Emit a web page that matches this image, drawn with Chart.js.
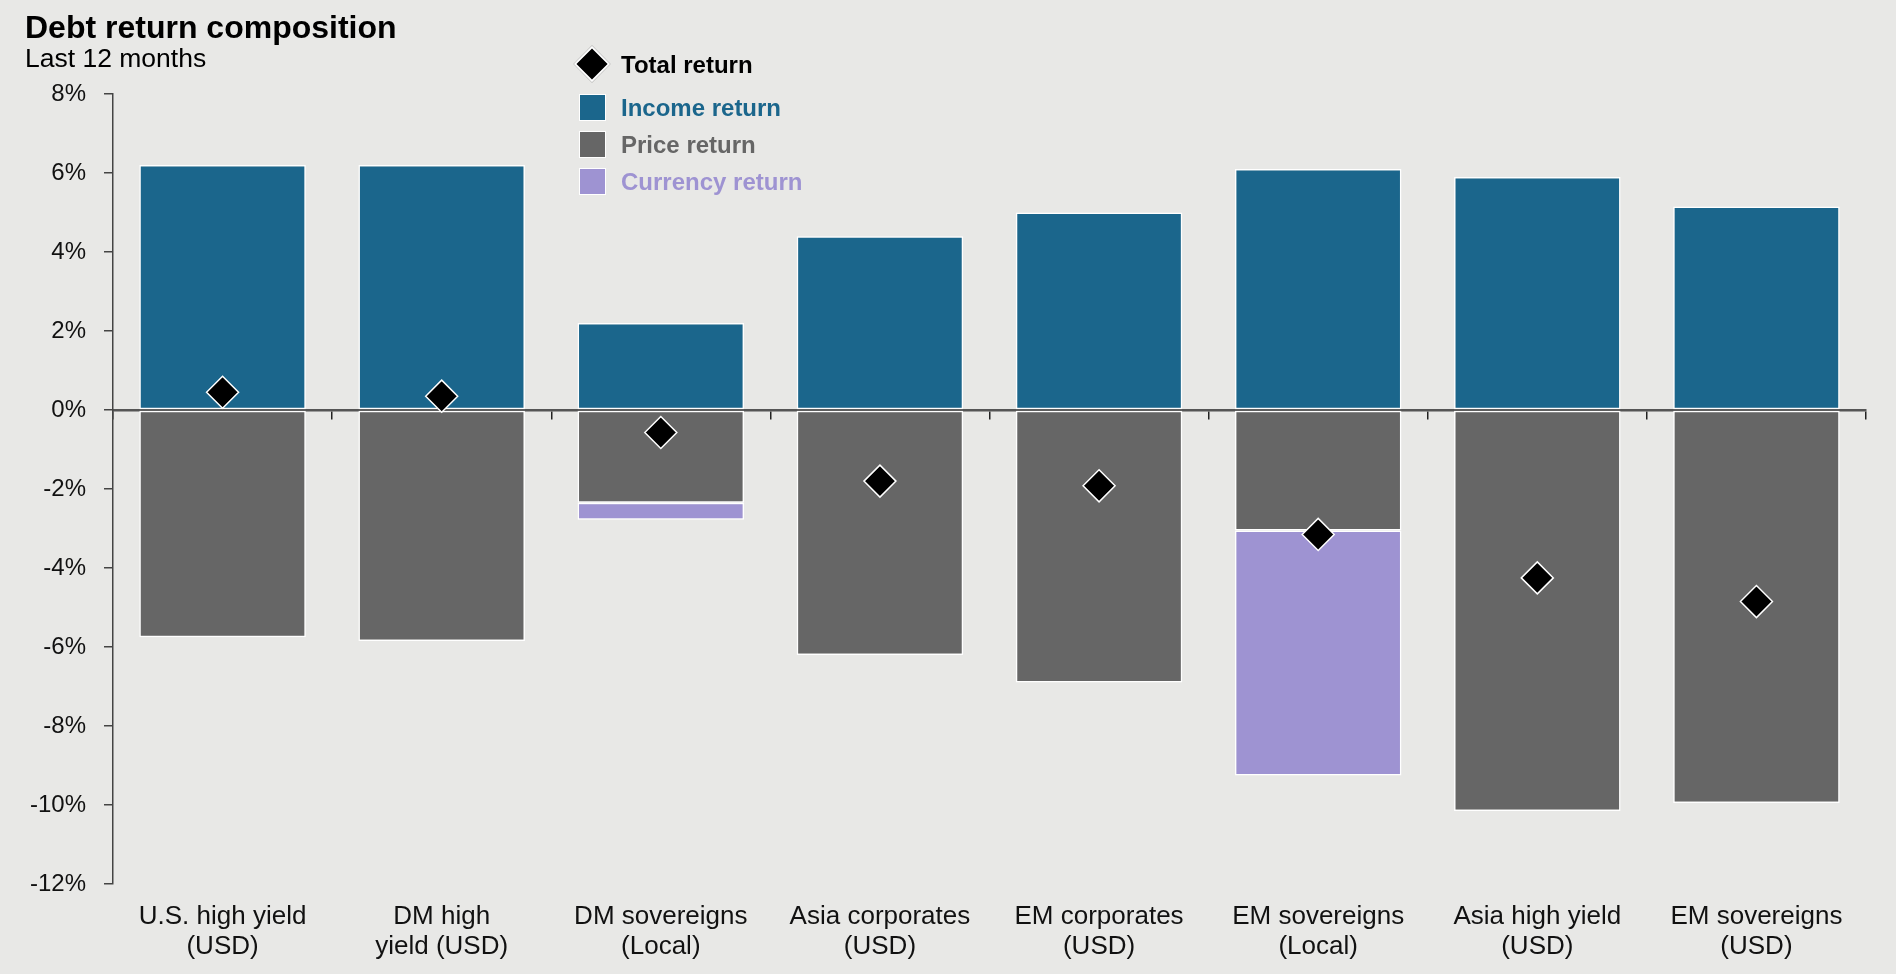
<!DOCTYPE html>
<html>
<head>
<meta charset="utf-8">
<title>Debt return composition</title>
<script src="https://cdn.jsdelivr.net/npm/chart.js@4.4.1/dist/chart.umd.min.js"></script>
<style>
  html, body { margin: 0; padding: 0; background: #e8e8e6; }
  body { width: 1896px; height: 974px; position: relative; overflow: hidden; font-family: "Liberation Sans", Arial, sans-serif; }
  #wrap { position: absolute; left: 0; top: 0; width: 1896px; height: 974px; }
  .title { position: absolute; left: 25px; top: 9px; font-size: 32px; font-weight: bold; color: #000; }
  .sub { position: absolute; left: 25px; top: 43px; font-size: 26.5px; color: #000; }
  .legend { position: absolute; left: 577px; top: 52.5px; }
  .legend .row { position: relative; height: 37px; font-size: 24px; font-weight: bold; }
  .legend .sw { position: absolute; left: 2px; top: -1.5px; width: 27px; height: 27px; border: 1.5px solid #fff; box-sizing: border-box; }
  .legend .dia { position: absolute; left: 2.3px; top: -1.5px; width: 26px; height: 26px; background: #000; border: 2px solid #fff; transform: rotate(45deg); box-sizing: border-box; }
  .legend .txt { position: absolute; left: 44px; top: -2px; white-space: nowrap; }
</style>
</head>
<body>
<div id="wrap"><canvas id="debtChart" width="1896" height="974"></canvas></div>
<div class="title">Debt return composition</div>
<div class="sub">Last 12 months</div>
<div class="legend">
  <div class="row" style="height:43px"><div class="dia"></div><div class="txt" style="color:#000">Total return</div></div>
  <div class="row"><div class="sw" style="background:#1b668c"></div><div class="txt" style="color:#1b668c">Income return</div></div>
  <div class="row"><div class="sw" style="background:#666666"></div><div class="txt" style="color:#666666">Price return</div></div>
  <div class="row"><div class="sw" style="background:#9e93d2"></div><div class="txt" style="color:#9e93d2">Currency return</div></div>
</div>
<script>
// Data (%)
const categories = [
    ['U.S. high yield', '(USD)'],
    ['DM high', 'yield (USD)'],
    ['DM sovereigns', '(Local)'],
    ['Asia corporates', '(USD)'],
    ['EM corporates', '(USD)'],
    ['EM sovereigns', '(Local)'],
    ['Asia high yield', '(USD)'],
    ['EM sovereigns', '(USD)']
];
const incomeReturn = [6.2, 6.2, 2.2, 4.4, 5.0, 6.1, 5.9, 5.15];
const priceReturn = [-5.75, -5.85, -2.35, -6.2, -6.9, -3.05, -10.15, -9.95];
const currencyReturn = [0, 0, -0.43, 0, 0, -6.2, 0, 0];
const totalReturn = [0.45, 0.35, -0.57, -1.8, -1.92, -3.15, -4.25, -4.85];
const yTicks = [8, 6, 4, 2, 0, -2, -4, -6, -8, -10, -12];

document.addEventListener('DOMContentLoaded', function() {
    const ctx = document.getElementById('debtChart').getContext('2d');
    const font = "'Liberation Sans', Arial, sans-serif";

    const barCommon = {
        type: 'bar',
        borderColor: '#ffffff',
        borderWidth: 1.5,
        borderSkipped: false,
        categoryPercentage: 1.0,
        barPercentage: 0.76,
        stack: 'bars',
        order: 2
    };

    new Chart(ctx, {
        data: {
            labels: categories,
            datasets: [
                {
                    type: 'line',
                    label: 'Total return',
                    data: totalReturn,
                    stack: 'total',
                    showLine: false,
                    pointStyle: 'rectRot',
                    pointRadius: 16,
                    pointHoverRadius: 16,
                    pointBackgroundColor: '#000000',
                    pointBorderColor: '#ffffff',
                    pointBorderWidth: 1.5,
                    order: 0
                },
                Object.assign({ label: 'Income return', data: incomeReturn, backgroundColor: '#1b668c' }, barCommon),
                Object.assign({ label: 'Price return', data: priceReturn, backgroundColor: '#666666' }, barCommon),
                Object.assign({ label: 'Currency return', data: currencyReturn, backgroundColor: '#9e93d2' }, barCommon)
            ]
        },
        options: {
            responsive: false,
            animation: false,
            layout: { padding: { top: 94, right: 30, left: 0, bottom: 0 } },
            plugins: {
                legend: { display: false },
                tooltip: { enabled: false }
            },
            scales: {
                x: {
                    type: 'category',
                    stacked: true,
                    grid: { display: false },
                    border: { display: false },
                    ticks: {
                        color: '#111',
                        font: { family: font, size: 26, lineHeight: 1.16 },
                        padding: 10,
                        maxRotation: 0,
                        autoSkip: false
                    },
                    afterFit: function(s) { s.height = 90; }
                },
                // zero line with the category tick marks, drawn over the bars
                x2: {
                    type: 'category',
                    axis: 'x',
                    position: { y: 0 },
                    offset: true,
                    z: 1,
                    grid: {
                        offset: true,
                        drawOnChartArea: false,
                        drawTicks: true,
                        tickLength: 8,
                        color: '#222',
                        lineWidth: 1.5
                    },
                    border: { display: true, color: '#555', width: 2.5 },
                    ticks: { display: false, autoSkip: false }
                },
                y: {
                    stacked: true,
                    min: -12,
                    max: 8,
                    afterBuildTicks: function(s) { s.ticks = yTicks.map(v => ({ value: v })); },
                    ticks: {
                        color: '#111',
                        font: { family: font, size: 24 },
                        padding: 18,
                        callback: v => v + '%'
                    },
                    grid: {
                        drawOnChartArea: false,
                        drawTicks: true,
                        tickLength: 9,
                        color: '#444',
                        lineWidth: 1.5
                    },
                    border: { display: true, color: '#444', width: 1.5 },
                    afterFit: function(s) { s.width = 113; }
                }
            }
        }
    });
});
</script>
</body>
</html>
